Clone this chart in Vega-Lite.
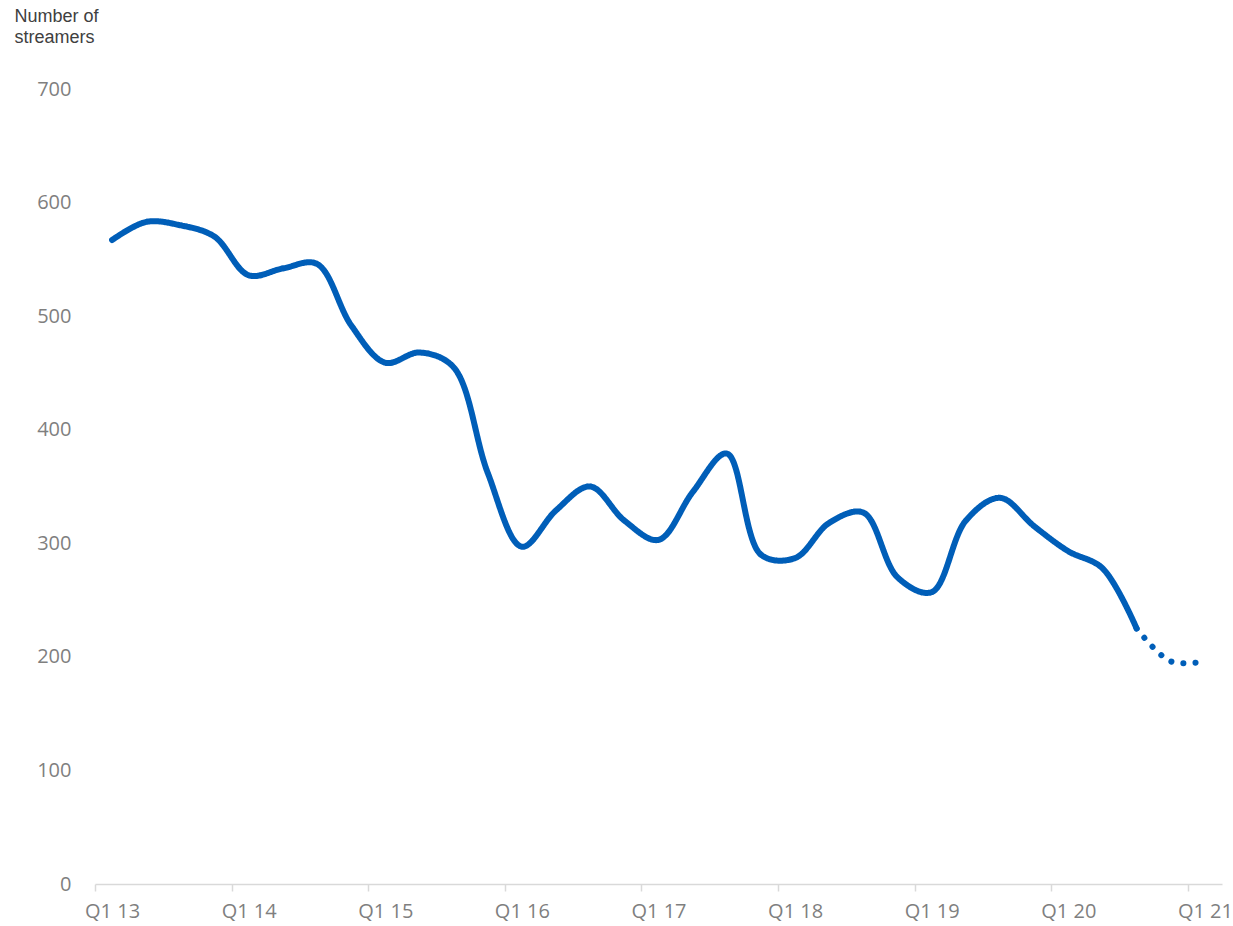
{
  "$schema": "https://vega.github.io/schema/vega-lite/v6.json",
  "width": 1127,
  "height": 795,
  "autosize": {"type": "none"},
  "padding": {"left": 95, "top": 89, "right": 11, "bottom": 42},
  "config": {"view": {"stroke": null}},
  "data": {
    "values": [
      {"quarter": "Q1 13", "streamers": 567, "series": "actual"},
      {"quarter": "Q2 13", "streamers": 583, "series": "actual"},
      {"quarter": "Q3 13", "streamers": 580, "series": "actual"},
      {"quarter": "Q4 13", "streamers": 570, "series": "actual"},
      {"quarter": "Q1 14", "streamers": 536, "series": "actual"},
      {"quarter": "Q2 14", "streamers": 542, "series": "actual"},
      {"quarter": "Q3 14", "streamers": 546, "series": "actual"},
      {"quarter": "Q4 14", "streamers": 492, "series": "actual"},
      {"quarter": "Q1 15", "streamers": 459, "series": "actual"},
      {"quarter": "Q2 15", "streamers": 468, "series": "actual"},
      {"quarter": "Q3 15", "streamers": 455, "series": "actual"},
      {"quarter": "Q4 15", "streamers": 362, "series": "actual"},
      {"quarter": "Q1 16", "streamers": 297, "series": "actual"},
      {"quarter": "Q2 16", "streamers": 329, "series": "actual"},
      {"quarter": "Q3 16", "streamers": 350, "series": "actual"},
      {"quarter": "Q4 16", "streamers": 320, "series": "actual"},
      {"quarter": "Q1 17", "streamers": 303, "series": "actual"},
      {"quarter": "Q2 17", "streamers": 345, "series": "actual"},
      {"quarter": "Q3 17", "streamers": 379, "series": "actual"},
      {"quarter": "Q4 17", "streamers": 290, "series": "actual"},
      {"quarter": "Q1 18", "streamers": 287, "series": "actual"},
      {"quarter": "Q2 18", "streamers": 318, "series": "actual"},
      {"quarter": "Q3 18", "streamers": 327, "series": "actual"},
      {"quarter": "Q4 18", "streamers": 270, "series": "actual"},
      {"quarter": "Q1 19", "streamers": 257, "series": "actual"},
      {"quarter": "Q2 19", "streamers": 320, "series": "actual"},
      {"quarter": "Q3 19", "streamers": 340, "series": "actual"},
      {"quarter": "Q4 19", "streamers": 315, "series": "actual"},
      {"quarter": "Q1 20", "streamers": 293, "series": "actual"},
      {"quarter": "Q2 20", "streamers": 278, "series": "actual"},
      {"quarter": "Q3 20", "streamers": 225, "series": "actual"},
      {"quarter": "Q3 20", "streamers": 225, "series": "forecast"},
      {"quarter": "Q4 20", "streamers": 196, "series": "forecast"},
      {"quarter": "Q1 21", "streamers": 196, "series": "forecast"}
    ]
  },
  "mark": {"type": "line", "interpolate": "catmull-rom", "color": "#005EB8", "strokeWidth": 6, "strokeCap": "round", "strokeJoin": "round"},
  "encoding": {
    "x": {
      "field": "quarter",
      "type": "ordinal",
      "sort": null,
      "scale": {"type": "point", "padding": 0.5},
      "axis": {
        "title": null,
        "values": ["Q1 13", "Q1 14", "Q1 15", "Q1 16", "Q1 17", "Q1 18", "Q1 19", "Q1 20", "Q1 21"],
        "labelAngle": 0,
        "labelFont": "Open Sans",
        "labelFontSize": 20,
        "labelColor": "#7F7F7F",
        "labelPadding": 10,
        "tickOffset": -17.08,
        "labelOffset": 17.08,
        "tickSize": 7,
        "tickColor": "#D9D9D9",
        "domainColor": "#D9D9D9",
        "domainWidth": 1.5,
        "tickWidth": 1.5,
        "grid": false
      }
    },
    "y": {
      "field": "streamers",
      "type": "quantitative",
      "scale": {"domain": [0, 700]},
      "axis": {
        "values": [0, 100, 200, 300, 400, 500, 600, 700],
        "title": ["Number of", "streamers"],
        "titleAngle": 0,
        "titleAlign": "left",
        "titleBaseline": "top",
        "titleX": -81,
        "titleY": -82,
        "titleFont": "Liberation Sans",
        "titleFontSize": 18,
        "titleFontWeight": "normal",
        "titleColor": "#404040",
        "titleLineHeight": 21,
        "labelFont": "Open Sans",
        "labelFontSize": 20,
        "labelColor": "#7F7F7F",
        "labelPadding": 24,
        "ticks": false,
        "domain": false,
        "grid": false
      }
    },
    "strokeDash": {
      "field": "series",
      "type": "nominal",
      "scale": {"domain": ["actual", "forecast"], "range": [[1, 0], [0.1, 12]]},
      "legend": null
    }
  }
}
